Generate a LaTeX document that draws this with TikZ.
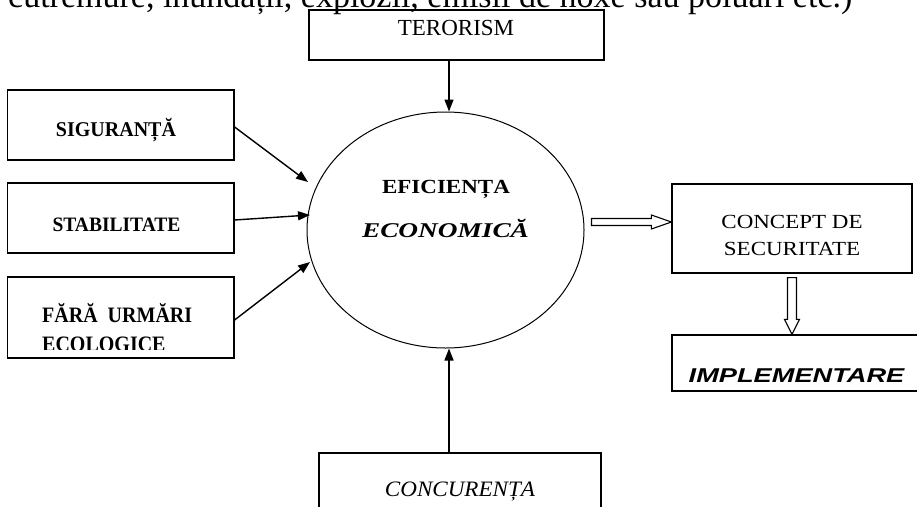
\documentclass[tikz,border=0pt]{standalone}
\usepackage{fontspec}
\setmainfont{Liberation Serif}
\newfontfamily\sansf{Liberation Sans}
\usetikzlibrary{arrows.meta,shapes.geometric,calc}

\begin{document}
\begin{tikzpicture}[x=1pt,y=-1pt,
  box/.style={draw,line width=1.2pt,rectangle,inner sep=0pt},
  lbl/.style={anchor=base,inner sep=0pt},
  lbw/.style={anchor=base west,inner sep=0pt},
  arr/.style={line width=1.4pt,-{Triangle[length=12pt,width=9pt]}},
  hollow/.style={draw,line width=1.1pt,fill=white,line join=miter}
]
\useasboundingbox (0,0) rectangle (917,506);
\clip (0,0) rectangle (917,506);

% running text of the page above the figure
\node[lbw] (txt) at (8,7) {\fontsize{34}{40}\selectfont cutremure, inundații, explozii, emisii de noxe sau poluări etc.)};

% boxes
\node[box,minimum width=295pt,minimum height=50pt] (ter) at (456.5,35) {};
\node[box,minimum width=226.5pt,minimum height=70pt] (sig) at (120.75,125) {};
\node[box,minimum width=226.5pt,minimum height=70pt] (stab) at (120.75,218) {};
\node[box,minimum width=226.5pt,minimum height=81pt] (fara) at (120.75,317.5) {};
\node[box,minimum width=240pt,minimum height=89pt] (concept) at (792,228.5) {};
\node[box,minimum width=253pt,minimum height=56pt] (impl) at (798.5,363) {};
\node[box,minimum width=282pt,minimum height=87pt] (conc) at (460,496.5) {};
\node[draw,line width=1pt,ellipse,minimum width=277pt,minimum height=236pt,inner sep=0pt] (eff) at (445.5,230) {};

% labels
\node[lbl] (tter) at (456,35) {\fontsize{23}{27}\selectfont TERORISM};
\node[lbl] (tsig) at (116,136) {\fontsize{20}{24}\selectfont\bfseries\scalebox{1}[1.05]{SIGURANȚĂ}};
\node[lbl] (tstab) at (116.5,231) {\fontsize{19.5}{24}\selectfont\bfseries\scalebox{1}[1.05]{STABILITATE}};
\node[lbw] (tfara1) at (42,322) {\fontsize{20}{24}\selectfont\bfseries\scalebox{1}[1.1]{FĂRĂ\ \ URMĂRI}};
\begin{scope}
  \clip (0,0) rectangle (917,349.5);
  \node[lbw] (tfara2) at (42,351) {\fontsize{20}{24}\selectfont\bfseries\scalebox{1}[1.1]{ECOLOGICE}};
\end{scope}
\node[lbl] (teff1) at (446,193) {\fontsize{20}{24}\selectfont\bfseries\scalebox{1.15}[1]{EFICIENȚA}};
\node[lbl] (teff2) at (445.5,237) {\fontsize{21}{25}\selectfont\bfseries\itshape\scalebox{1.3}[1]{ECONOMICĂ}};
\node[lbl] (tcon1) at (792,228) {\fontsize{20}{24}\selectfont\scalebox{1.15}[1]{CONCEPT DE}};
\node[lbl] (tcon2) at (792,255) {\fontsize{20}{24}\selectfont\scalebox{1.15}[1]{SECURITATE}};
\node[lbl] (timpl) at (796.5,382) {\fontsize{20}{24}\selectfont\sansf\bfseries\itshape\scalebox{1.36}[1]{IMPLEMENTARE}};
\node[lbl] (tconc) at (460,496) {\fontsize{22}{26}\selectfont\itshape\scalebox{1.05}[1]{CONCURENȚA}};

% arrow end points near the ellipse
\coordinate (ax) at (449,0);
\coordinate (e1) at (308,182);
\coordinate (e2) at (310,215);
\coordinate (e3) at (310,262);

% plain arrows
\draw[arr] (ter.south -| ax) -- (eff.north -| ax);
\draw[arr] (conc.north -| ax) -- (eff.south -| ax);
\draw[arr] (sig.east) ++(0,2) -- (e1);
\draw[arr] (stab.east) ++(0,2) -- (e2);
\draw[arr] (fara.east) ++(0,2.5) -- (e3);

% hollow block arrows
\coordinate (ha) at ($(eff.east)+(7,-8)$);
\coordinate (ht) at (concept.west |- ha);
\draw[hollow] ($(ha)+(0,-3.5)$) -- ($(ht)+(-20,-3.5)$) -- ($(ht)+(-20,-7)$) -- (ht)
  -- ($(ht)+(-20,7)$) -- ($(ht)+(-20,3.5)$) -- ($(ha)+(0,3.5)$) -- cycle;
\coordinate (vs) at ($(concept.south)+(0,4)$);
\coordinate (vt) at (impl.north -| vs);
\draw[hollow] ($(vs)+(-4.5,0)$) -- ($(vt)+(-4.5,-15)$) -- ($(vt)+(-7.5,-15)$) -- (vt)
  -- ($(vt)+(7.5,-15)$) -- ($(vt)+(4.5,-15)$) -- ($(vs)+(4.5,0)$) -- cycle;
\end{tikzpicture}
\end{document}
